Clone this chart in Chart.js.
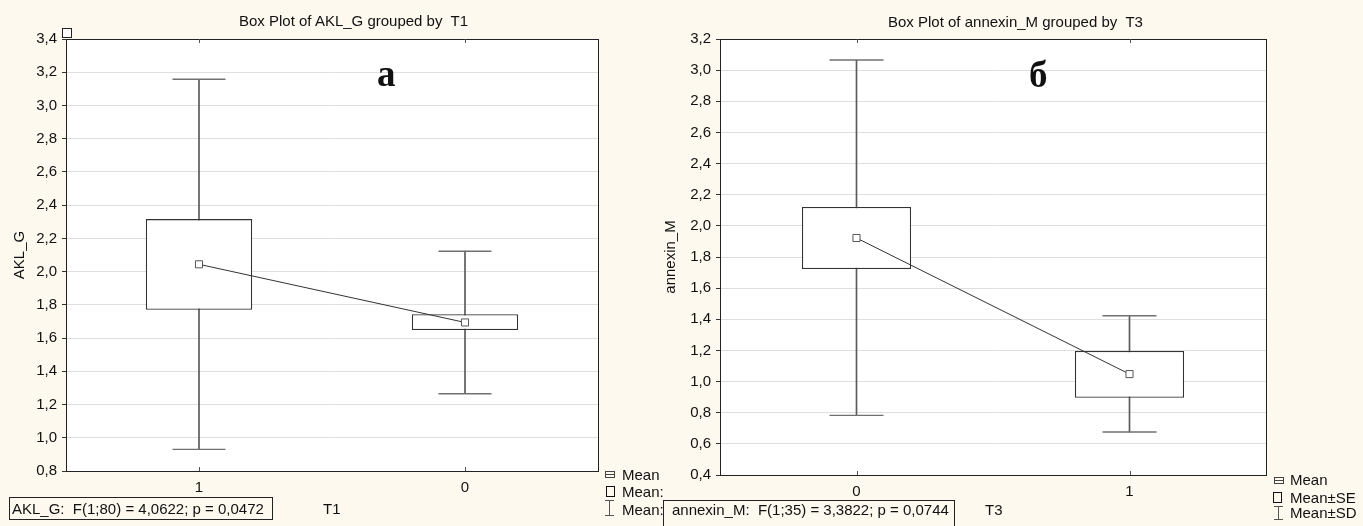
<!DOCTYPE html>
<html>
<head>
<meta charset="utf-8">
<script src="https://cdn.jsdelivr.net/npm/chart.js@4.4.0/dist/chart.umd.min.js"></script>
<style>
    body {
        margin: 0;
        width: 1363px;
        height: 526px;
        overflow: hidden;
        position: relative;
        background: #fdf9ef;
        font-family: Arial, "Liberation Sans", sans-serif;
        color: #111;
    }
    canvas { position: absolute; top: 0; }
    .txt { position: absolute; font-size: 15px; line-height: 18px; white-space: pre; }
    .letra { position: absolute; font-family: "Liberation Serif", "Times New Roman", serif; font-weight: bold; font-size: 37px; line-height: 37px; }
    .caja { position: absolute; border: 1px solid #222; }
    .simMedia { position: absolute; width: 8px; height: 5px; border: 1px solid #444; }
    .simMedia::after { content: ""; position: absolute; left: -1px; right: -1px; top: 2px; height: 1px; background: #444; }
    .simSE { position: absolute; border: 1.5px solid #111; }
    .simSD { position: absolute; width: 9px; border-top: 1px solid #555; border-bottom: 1px solid #555; }
    .simSD::after { content: ""; position: absolute; left: 4px; top: 0; bottom: 0; width: 1px; background: #555; }
</style>
</head>
<body>

<canvas id="grafA" width="610" height="526" style="left:0"></canvas>
<canvas id="grafB" width="753" height="526" style="left:610px"></canvas>

<div class="txt" style="left:239px; top:12px;">Box Plot of AKL_G grouped by  T1</div>
<div class="txt" style="left:888px; top:13px;">Box Plot of annexin_M grouped by  T3</div>

<div class="letra" style="left:377px; top:55px;">а</div>
<div class="letra" style="left:1029px; top:56px;">б</div>

<div class="caja" style="left:62px; top:28px; width:8px; height:8px; background:#fff; border-width:1.5px;"></div>

<!-- leyenda izquierda (recortada) -->
<div class="simMedia" style="left:605px; top:471px;"></div>
<div class="txt" style="left:622px; top:466px;">Mean</div>
<div class="simSE" style="left:606px; top:486px; width:7px; height:9px;"></div>
<div class="txt" style="left:622px; top:483px;">Mean:</div>
<div class="simSD" style="left:605px; top:500px; height:14px;"></div>
<div class="txt" style="left:622px; top:501px;">Mean:</div>

<!-- leyenda derecha -->
<div class="simMedia" style="left:1274px; top:477px;"></div>
<div class="txt" style="left:1290px; top:471px;">Mean</div>
<div class="simSE" style="left:1273px; top:492px; width:7px; height:9px;"></div>
<div class="txt" style="left:1290px; top:489px;">Mean±SE</div>
<div class="simSD" style="left:1274px; top:506px; height:12px;"></div>
<div class="txt" style="left:1290px; top:504px;">Mean±SD</div>

<!-- anotaciones -->
<div class="caja" style="left:9px; top:497px; width:262px; height:21px;"></div>
<div class="txt" style="left:12px; top:500px;">AKL_G:  F(1;80) = 4,0622; p = 0,0472</div>
<div class="txt" style="left:323px; top:500px;">T1</div>

<div class="caja" style="left:663px; top:500px; width:290px; height:30px; background:#fdf9ef;"></div>
<div class="txt" style="left:672px; top:501px;">annexin_M:  F(1;35) = 3,3822; p = 0,0744</div>
<div class="txt" style="left:985px; top:501px;">T3</div>

<script>
// grafico a: AKL_G por T1
let categoriasA = ['1', '0'];
let mediasA = [2.044, 1.694];
let seBajoA = [1.770, 1.648];
let seAltoA = [2.316, 1.744];
let sdBajoA = [0.930, 1.265];
let sdAltoA = [3.158, 2.123];

// grafico b: annexin_M por T3
let categoriasB = ['0', '1'];
let mediasB = [1.922, 1.048];
let seBajoB = [1.723, 0.896];
let seAltoB = [2.121, 1.196];
let sdBajoB = [0.783, 0.676];
let sdAltoB = [3.065, 1.423];

let fuente = { family: 'Arial, "Liberation Sans", sans-serif', size: 15 };

let marco = {
    id: 'marco',
    beforeDraw: function(chart) {
        let a = chart.chartArea;
        let ctx = chart.ctx;
        ctx.save();
        ctx.fillStyle = '#ffffff';
        ctx.fillRect(a.left, a.top, a.right - a.left, a.bottom - a.top);
        ctx.restore();
    },
    afterDraw: function(chart) {
        let a = chart.chartArea;
        let ctx = chart.ctx;
        let x = chart.scales.x;
        ctx.save();
        ctx.strokeStyle = '#222';
        ctx.lineWidth = 1;
        ctx.strokeRect(Math.round(a.left) + 0.5, Math.round(a.top) + 0.5, Math.round(a.right - a.left), Math.round(a.bottom - a.top));
        ctx.strokeStyle = '#555';
        for (let i = 0; i < x.ticks.length; i++) {
            let px = Math.round(x.getPixelForTick(i)) + 0.5;
            ctx.beginPath();
            ctx.moveTo(px, a.bottom);
            ctx.lineTo(px, a.bottom - 4);
            ctx.moveTo(px, a.top);
            ctx.lineTo(px, a.top + 4);
            ctx.stroke();
        }
        ctx.restore();
    }
};

function dibujarCaja(canvasId, categorias, medias, seBajo, seAlto, sdBajo, sdAlto, yMin, yMax, tituloY, anchoEje, padDerecha, padAbajo, padTitulo, radioTope) {
    let cajas = [];
    let bigotes = [];
    for (let i = 0; i < categorias.length; i++) {
        cajas.push([seBajo[i], seAlto[i]]);
        bigotes.push([sdBajo[i], sdAlto[i]]);
    }

    return new Chart(document.getElementById(canvasId), {
        type: 'bar',
        data: {
            labels: categorias,
            datasets: [
                {
                    type: 'line',
                    label: 'Mean',
                    data: medias,
                    borderColor: '#333',
                    borderWidth: 1,
                    pointStyle: 'rect',
                    pointRadius: 5,
                    pointBackgroundColor: '#fff',
                    pointBorderColor: '#555',
                    pointBorderWidth: 1,
                    order: 1
                },
                {
                    type: 'bar',
                    label: 'Mean±SE',
                    data: cajas,
                    backgroundColor: '#fff',
                    borderColor: '#333',
                    borderWidth: 1.3,
                    borderSkipped: false,
                    grouped: false,
                    barPercentage: 0.4,
                    categoryPercentage: 1,
                    order: 2
                },
                {
                    type: 'line',
                    label: 'SD alto',
                    data: sdAlto,
                    showLine: false,
                    pointStyle: 'line',
                    pointRadius: radioTope,
                    pointBorderColor: '#707070',
                    pointBorderWidth: 1.4,
                    order: 3
                },
                {
                    type: 'line',
                    label: 'SD bajo',
                    data: sdBajo,
                    showLine: false,
                    pointStyle: 'line',
                    pointRadius: radioTope,
                    pointBorderColor: '#707070',
                    pointBorderWidth: 1.4,
                    order: 3
                },
                {
                    type: 'bar',
                    label: 'Mean±SD',
                    data: bigotes,
                    backgroundColor: '#5a5a5a',
                    borderWidth: 0,
                    barThickness: 1,
                    grouped: false,
                    order: 4
                }
            ]
        },
        options: {
            responsive: false,
            animation: false,
            layout: {
                autoPadding: false,
                padding: { left: 0, right: padDerecha, top: 39, bottom: padAbajo }
            },
            plugins: {
                legend: { display: false },
                tooltip: { enabled: false }
            },
            scales: {
                x: {
                    grid: { display: false, drawTicks: false },
                    border: { display: false },
                    ticks: { font: fuente, color: '#111', padding: 8 },
                    afterFit: function(s) { s.height = 30; }
                },
                y: {
                    min: yMin,
                    max: yMax,
                    ticks: {
                        stepSize: 0.2,
                        font: fuente,
                        color: '#111',
                        padding: 5,
                        callback: function(v) { return v.toFixed(1).replace('.', ','); }
                    },
                    grid: { color: '#dedede', tickColor: '#333', tickLength: 4 },
                    border: { color: '#222' },
                    title: {
                        display: true,
                        text: tituloY,
                        font: fuente,
                        color: '#111',
                        padding: { top: padTitulo, bottom: 0 }
                    },
                    afterFit: function(s) { s.width = anchoEje; }
                }
            }
        },
        plugins: [marco]
    });
}

dibujarCaja('grafA', categoriasA, mediasA, seBajoA, seAltoA, sdBajoA, sdAltoA, 0.8, 3.4, 'AKL_G', 66, 12, 25, 10.5, 26.5);
dibujarCaja('grafB', categoriasB, mediasB, seBajoB, seAltoB, sdBajoB, sdAltoB, 0.4, 3.2, 'annexin_M', 110, 97, 21, 52, 27);
</script>
</body>
</html>
